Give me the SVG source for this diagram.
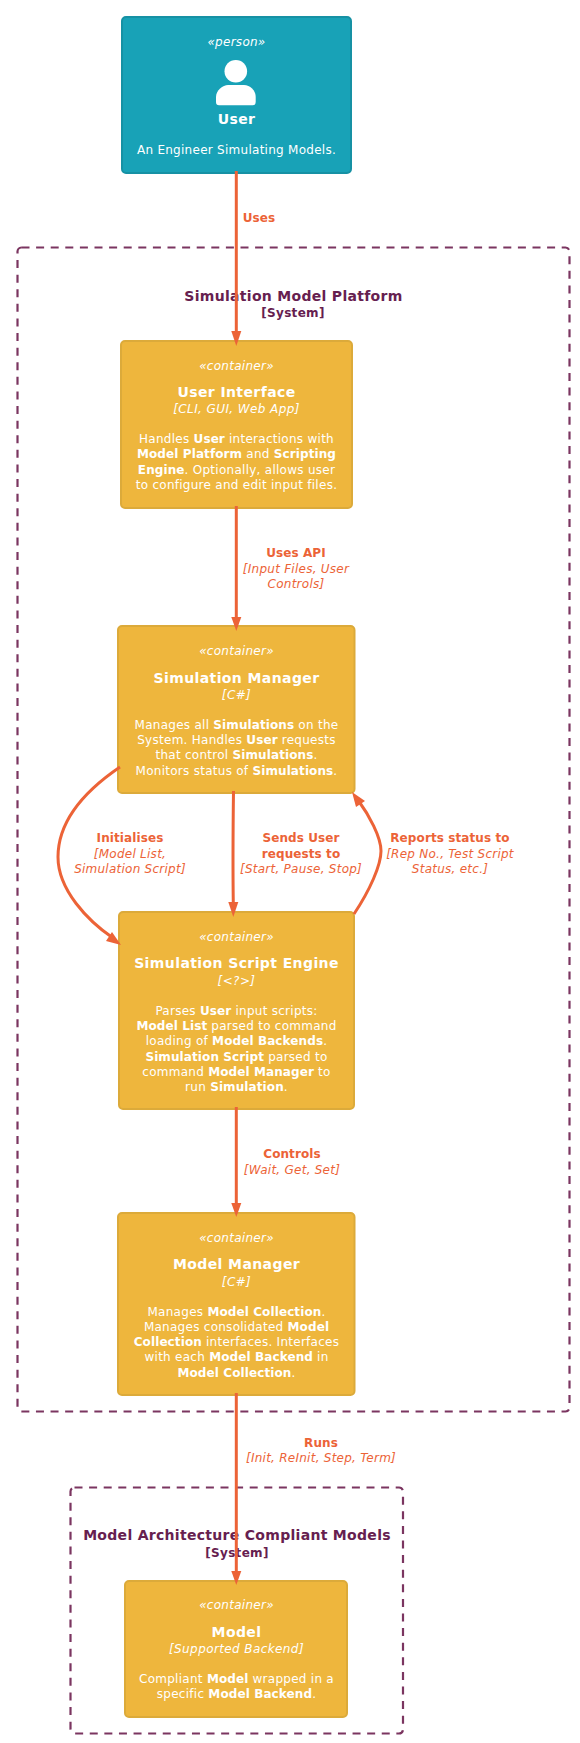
<svg xmlns="http://www.w3.org/2000/svg" width="580" height="1743" viewBox="0 0 580 1743">
<style>
text{font-family:"DejaVu Sans",Verdana,sans-serif;text-anchor:middle}
.b{font-weight:bold;letter-spacing:.1px}
.i{font-style:italic;letter-spacing:.25px}
.w{fill:#fff}
.nd{font-size:12px;letter-spacing:.27px}
.t{font-size:14px;font-weight:bold;letter-spacing:.4px}
.st{font-size:12px;font-style:italic;letter-spacing:.4px}
.cont{fill:#EEB63D;stroke:#DCAA3A;stroke-width:2}
.pers{fill:#18A2B7;stroke:#1691A4;stroke-width:2}
.cl{fill:none;stroke:#7B3560;stroke-width:2.200;stroke-dasharray:8 6.600}
.clt{fill:#66204F;font-weight:bold;letter-spacing:.3px}
.c{fill:none;stroke:#EC6337;stroke-width:3}
.l{fill:#EC6337;font-size:12px}
.a{fill:#EC6337}
</style>
<g id="cluster-platform"><rect class="cl" x="17.500" y="247.500" width="552" height="1164" rx="4"/>
<text class="clt" x="293.500" y="301" font-size="14">Simulation Model Platform</text>
<text class="clt" x="293" y="317" font-size="12">[System]</text></g>
<g id="cluster-models"><rect class="cl" x="70.500" y="1487.500" width="332.500" height="246" rx="4"/>
<text class="clt" x="237" y="1540" font-size="14">Model Architecture Compliant Models</text>
<text class="clt" x="237" y="1557" font-size="12">[System]</text></g>
<g id="user"><rect class="pers" x="122" y="17" width="229" height="156" rx="4"/>
<text class="w i nd" x="236.500" y="46">«person»</text>
<circle class="w" cx="235.800" cy="71.300" r="11.300"/>
<path class="w" d="M219 105.300Q216 105.300 216 102V97C216 90 223 85 228 85H244C250 85 255.700 90 255.700 97V102Q255.700 105.300 252.700 105.300Z"/>
<text class="w t" x="236.500" y="124">User</text>
<text class="w nd" x="236.500" y="154">An Engineer Simulating Models.</text></g>
<g id="user-interface"><rect class="cont" x="121" y="341" width="231" height="167" rx="4"/>
<text class="w i nd" x="236.500" y="369.500">«container»</text>
<text class="w t" x="236.500" y="397">User Interface</text>
<text class="w st" x="236.500" y="413">[CLI, GUI, Web App]</text>
<text class="w nd" x="236.500" y="443">Handles <tspan class="b">User</tspan> interactions with</text>
<text class="w nd" x="236.500" y="458"><tspan class="b">Model Platform</tspan> and <tspan class="b">Scripting</tspan></text>
<text class="w nd" x="236.500" y="474"><tspan class="b">Engine</tspan>. Optionally, allows user</text>
<text class="w nd" x="236.500" y="489">to configure and edit input files.</text></g>
<g id="simulation-manager"><rect class="cont" x="118" y="626" width="236.500" height="167" rx="4"/>
<text class="w i nd" x="236.500" y="655">«container»</text>
<text class="w t" x="236.500" y="683">Simulation Manager</text>
<text class="w st" x="236.500" y="699">[C#]</text>
<text class="w nd" x="236.500" y="729">Manages all <tspan class="b">Simulations</tspan> on the</text>
<text class="w nd" x="236.500" y="744">System. Handles <tspan class="b">User</tspan> requests</text>
<text class="w nd" x="236.500" y="759">that control <tspan class="b">Simulations</tspan>.</text>
<text class="w nd" x="236.500" y="775">Monitors status of <tspan class="b">Simulations</tspan>.</text></g>
<g id="script-engine"><rect class="cont" x="119" y="912" width="235" height="197" rx="4"/>
<text class="w i nd" x="236.500" y="941">«container»</text>
<text class="w t" x="236.500" y="968">Simulation Script Engine</text>
<text class="w st" x="236.500" y="985">[&lt;?&gt;]</text>
<text class="w nd" x="236.500" y="1015">Parses <tspan class="b">User</tspan> input scripts:</text>
<text class="w nd" x="236.500" y="1030"><tspan class="b">Model List</tspan> parsed to command</text>
<text class="w nd" x="236.500" y="1045">loading of <tspan class="b">Model Backends</tspan>.</text>
<text class="w nd" x="236.500" y="1061"><tspan class="b">Simulation Script</tspan> parsed to</text>
<text class="w nd" x="236.500" y="1076">command <tspan class="b">Model Manager</tspan> to</text>
<text class="w nd" x="236.500" y="1091">run <tspan class="b">Simulation</tspan>.</text></g>
<g id="model-manager"><rect class="cont" x="118" y="1213" width="236.500" height="182" rx="4"/>
<text class="w i nd" x="236.500" y="1242">«container»</text>
<text class="w t" x="236.500" y="1269">Model Manager</text>
<text class="w st" x="236.500" y="1286">[C#]</text>
<text class="w nd" x="236.500" y="1316">Manages <tspan class="b">Model Collection</tspan>.</text>
<text class="w nd" x="236.500" y="1331">Manages consolidated <tspan class="b">Model</tspan></text>
<text class="w nd" x="236.500" y="1346"><tspan class="b">Collection</tspan> interfaces. Interfaces</text>
<text class="w nd" x="236.500" y="1361">with each <tspan class="b">Model Backend</tspan> in</text>
<text class="w nd" x="236.500" y="1377"><tspan class="b">Model Collection</tspan>.</text></g>
<g id="model"><rect class="cont" x="125" y="1581" width="222" height="136" rx="4"/>
<text class="w i nd" x="236.500" y="1609">«container»</text>
<text class="w t" x="236.500" y="1637">Model</text>
<text class="w st" x="236.500" y="1653">[Supported Backend]</text>
<text class="w nd" x="236.500" y="1683">Compliant <tspan class="b">Model</tspan> wrapped in a</text>
<text class="w nd" x="236.500" y="1698">specific <tspan class="b">Model Backend</tspan>.</text></g>
<g id="connectors">
<path class="c" d="M236.300 171V333"/><path class="a" d="M231.300 331L236.300 346L241.300 331Z"/>
<text class="l b" x="259" y="222">Uses</text>
<path class="c" d="M236.300 506V619"/><path class="a" d="M231.300 617L236.300 631L241.300 617Z"/>
<text class="l b" x="296" y="557">Uses API</text>
<text class="l i" x="296" y="573">[Input Files, User</text>
<text class="l i" x="296" y="588">Controls]</text>
<path class="c" d="M120 767C95 784 58 815 58 857C58 890 88 921 113 938"/><path class="a" d="M121 945L106 941L112 932Z"/>
<text class="l b" x="130" y="842">Initialises</text>
<text class="l i" x="130" y="858">[Model List,</text>
<text class="l i" x="130" y="873">Simulation Script]</text>
<path class="c" d="M233.500 791C233 830 232.800 870 233.300 904"/><path class="a" d="M228.300 902L233.300 917L238.300 902Z"/>
<text class="l b" x="301" y="842">Sends User</text>
<text class="l b" x="301" y="858">requests to</text>
<text class="l i" x="301" y="873">[Start, Pause, Stop]</text>
<path class="c" d="M354 914C370 890 381 865 381 851C381 837 369 815 358 800"/><path class="a" d="M352 792L365 801L356 807Z"/>
<text class="l b" x="450" y="842">Reports status to</text>
<text class="l i" x="450" y="858">[Rep No., Test Script</text>
<text class="l i" x="450" y="873">Status, etc.]</text>
<path class="c" d="M236.300 1107V1205"/><path class="a" d="M231.300 1203L236.300 1217L241.300 1203Z"/>
<text class="l b" x="292" y="1158">Controls</text>
<text class="l i" x="292" y="1174">[Wait, Get, Set]</text>
<path class="c" d="M236.300 1393V1573"/><path class="a" d="M231.300 1571L236.300 1585L241.300 1571Z"/>
<text class="l b" x="321" y="1447">Runs</text>
<text class="l i" x="321" y="1462">[Init, ReInit, Step, Term]</text>
</g>
</svg>
